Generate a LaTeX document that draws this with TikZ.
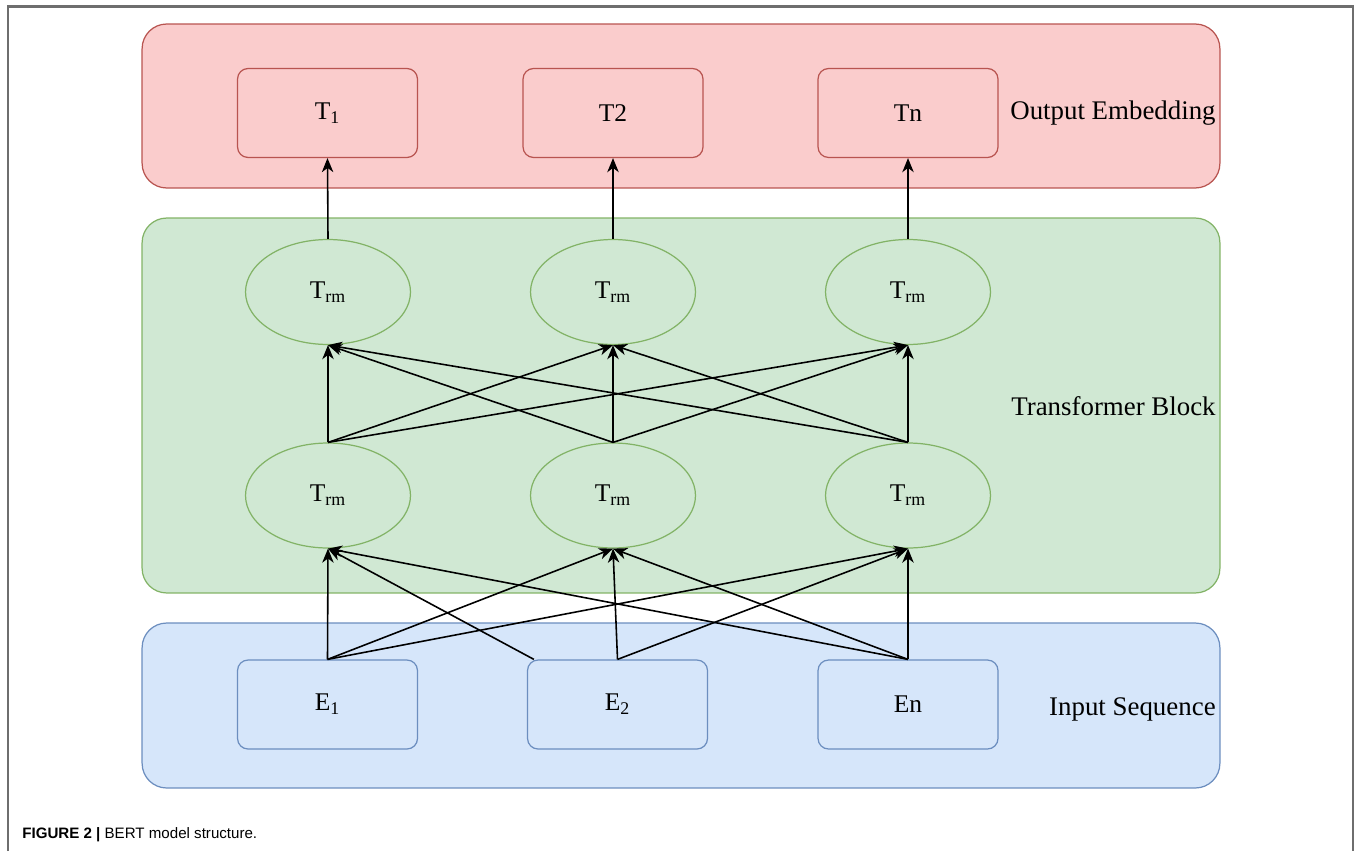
\documentclass[tikz,border=0pt]{standalone}
\usepackage{fontspec}
\setmainfont{Liberation Serif}
\newfontfamily\capfont{Liberation Sans}
\usetikzlibrary{arrows.meta,shapes.geometric}

\definecolor{bertred}{HTML}{FACCCC}
\definecolor{bertredline}{HTML}{B85450}
\definecolor{bertgreen}{HTML}{D0E8D3}
\definecolor{bertgreenline}{HTML}{82B366}
\definecolor{bertblue}{HTML}{D6E6FA}
\definecolor{bertblueline}{HTML}{6C8EBF}
\definecolor{framegray}{RGB}{110,110,110}

\begin{document}
\begin{tikzpicture}[x=0.02cm, y=-0.02cm,
    every node/.style={font=\fontsize{14.5}{17}\selectfont},
    layer/.style={draw, rectangle, rounded corners=14pt, line width=0.7pt, minimum width=21.56cm},
    tokbox/.style={draw, rectangle, rounded corners=6pt, line width=0.7pt, minimum width=3.6cm, minimum height=1.78cm},
    trm/.style={draw=bertgreenline, fill=bertgreen, ellipse, line width=0.7pt, inner sep=0pt, minimum width=3.3cm, minimum height=2.1cm},
    sidelabel/.style={anchor=base east, inner sep=0pt, font=\fontsize{15.3}{18}\selectfont},
    arr/.style={-{Stealth[length=8pt,width=6.5pt,inset=2.4pt]}, line width=0.9pt}]
    \useasboundingbox (0,0) rectangle (1354,851);

    % page frame
    \draw[framegray, line width=1.2pt] (8,851) -- (8,6.5) -- (1353,6.5) -- (1353,851);

    % the three layers
    \node[layer, fill=bertred, draw=bertredline, minimum height=3.28cm] (outlayer) at (681,106) {};
    \node[layer, fill=bertgreen, draw=bertgreenline, minimum height=7.5cm] (trmlayer) at (681,405.5) {};
    \node[layer, fill=bertblue, draw=bertblueline, minimum height=3.3cm] (inlayer) at (681,705.5) {};

    \node[sidelabel] (outlabel) at (1216,120) {Output Embedding};
    \node[sidelabel] (trmlabel) at (1216,415) {Transformer Block};
    \node[sidelabel] (inlabel) at (1216,715) {Input Sequence};

    % output tokens
    \node[tokbox, fill=bertred, draw=bertredline] (out1) at (327.5,113) {T\textsubscript{1}};
    \node[tokbox, fill=bertred, draw=bertredline] (out2) at (613,113) {T2};
    \node[tokbox, fill=bertred, draw=bertredline] (out3) at (908,113) {Tn};

    % two rows of transformer cells
    \foreach \i/\x in {1/328,2/613,3/908} {
        \node[trm] (up\i) at (\x,292) {T\textsubscript{rm}};
        \node[trm] (low\i) at (\x,495.5) {T\textsubscript{rm}};
    }

    % input embeddings
    \node[tokbox, fill=bertblue, draw=bertblueline] (emb1) at (327.5,704.5) {E\textsubscript{1}};
    \node[tokbox, fill=bertblue, draw=bertblueline] (emb2) at (617.5,704.5) {E\textsubscript{2}};
    \node[tokbox, fill=bertblue, draw=bertblueline] (emb3) at (908,704.5) {En};
    \coordinate (emb2a) at ([xshift=0.14cm]emb2.north west);

    % connections
    \foreach \i in {1,2,3} {
        \draw[arr] (up\i.north) -- (out\i.south);
        \foreach \j in {1,2,3} {
            \draw[arr] (low\i.north) -- (up\j.south);
        }
    }
    \foreach \s/\t in {emb1.north/low1, emb1.north/low2, emb1.north/low3,
                       emb2a/low1, emb2.north/low2, emb2.north/low3,
                       emb3.north/low1, emb3.north/low2, emb3.north/low3} {
        \draw[arr] (\s) -- (\t.south);
    }

    \node[anchor=base west, inner sep=0pt, font=\capfont\fontsize{8.6}{10}\selectfont] (caption) at (22,838) {\textbf{FIGURE 2 |} BERT model structure.};
\end{tikzpicture}
\end{document}
